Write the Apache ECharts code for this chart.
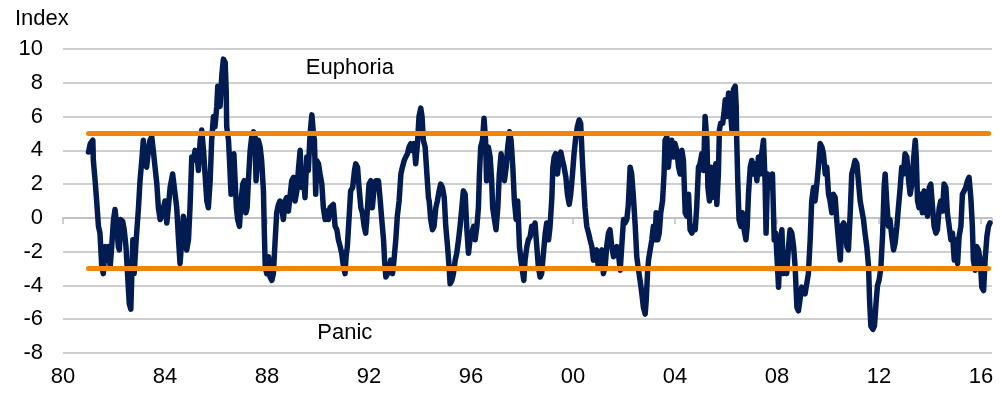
<!DOCTYPE html>
<html>
<head>
<meta charset="utf-8">
<script src="https://cdn.jsdelivr.net/npm/echarts@6/dist/echarts.min.js"></script>
<style>
  html, body { margin: 0; padding: 0; background: #fff; }
  #chart { width: 1002px; height: 396px; }
</style>
</head>
<body>
<div id="chart"></div>
<script>
// index readings: [year, value]
const sentiment = [
  [1981.00, 3.9], [1981.07, 4.4], [1981.17, 4.6], [1981.19, 3.4], [1981.26, 2.2], [1981.32, 1.0],
  [1981.39, -0.5], [1981.45, -0.9], [1981.52, -2.9], [1981.58, -3.3], [1981.65, -1.7], [1981.72, -2.5],
  [1981.78, -1.7], [1981.85, -2.9], [1981.91, -1.7], [1981.98, -0.1], [1982.04, 0.5], [1982.11, -0.5],
  [1982.17, -1.7], [1982.21, -1.9], [1982.26, -0.1], [1982.34, -0.2], [1982.40, -0.7], [1982.47, -1.7],
  [1982.53, -3.3], [1982.60, -5.1], [1982.66, -5.4], [1982.70, -3.3], [1982.74, -1.3], [1982.79, -3.3],
  [1982.87, -1.3], [1982.96, 0.6], [1983.02, 2.2], [1983.09, 3.4], [1983.15, 4.6], [1983.22, 3.2],
  [1983.28, 3.0], [1983.35, 4.0], [1983.41, 4.6], [1983.48, 4.8], [1983.54, 4.0], [1983.61, 3.0],
  [1983.68, 2.0], [1983.74, 0.6], [1983.81, -0.1], [1983.87, 0.1], [1983.94, 0.6], [1984.00, 1.0],
  [1984.07, -0.3], [1984.13, 0.6], [1984.20, 1.8], [1984.30, 2.6], [1984.37, 2.6], [1984.46, 0.6],
  [1984.53, -1.3], [1984.59, -2.7], [1984.66, -1.3], [1984.72, 0.1], [1984.79, -0.5], [1984.85, -1.9],
  [1984.92, -1.3], [1984.98, 0.6], [1985.05, 3.6], [1985.11, 3.4], [1985.18, 4.0], [1985.25, 3.8],
  [1985.31, 2.8], [1985.38, 4.6], [1985.44, 5.2], [1985.51, 4.0], [1985.57, 2.6], [1985.64, 1.0],
  [1985.70, 0.6], [1985.77, 2.2], [1985.83, 4.6], [1985.90, 6.0], [1985.96, 5.4], [1986.03, 6.6],
  [1986.07, 7.8], [1986.12, 7.5], [1986.16, 6.6], [1986.23, 8.5], [1986.29, 9.4], [1986.36, 9.2],
  [1986.40, 7.5], [1986.42, 5.4], [1986.49, 4.6], [1986.53, 3.4], [1986.59, 1.4], [1986.64, 2.6],
  [1986.70, 3.8], [1986.75, 2.2], [1986.80, 0.6], [1986.85, -0.1], [1986.92, -0.5], [1986.98, 1.0],
  [1987.05, 2.0], [1987.11, 2.2], [1987.17, 0.3], [1987.22, 0.6], [1987.27, 2.2], [1987.34, 4.0],
  [1987.40, 4.8], [1987.47, 5.1], [1987.53, 4.8], [1987.57, 2.2], [1987.62, 3.4], [1987.66, 4.6],
  [1987.73, 4.2], [1987.79, 3.4], [1987.86, 1.6], [1987.89, -0.5], [1987.93, -2.9], [1987.99, -3.3],
  [1988.06, -2.3], [1988.12, -3.5], [1988.19, -3.7], [1988.25, -3.3], [1988.32, -1.3], [1988.38, 0.3],
  [1988.45, 0.8], [1988.51, 1.0], [1988.58, 0.6], [1988.64, -0.1], [1988.71, 1.0], [1988.77, 1.2],
  [1988.84, 0.4], [1988.91, 1.4], [1988.97, 2.2], [1989.04, 2.4], [1989.10, 1.0], [1989.17, 1.6],
  [1989.24, 3.0], [1989.30, 4.0], [1989.36, 1.8], [1989.43, 2.6], [1989.49, 1.2], [1989.56, 3.6],
  [1989.62, 2.8], [1989.69, 5.0], [1989.76, 6.1], [1989.82, 5.0], [1989.86, 4.6], [1989.91, 1.4],
  [1989.95, 3.4], [1990.02, 3.2], [1990.08, 2.6], [1990.15, 2.0], [1990.21, 0.6], [1990.28, -0.1],
  [1990.34, 0.4], [1990.41, -0.1], [1990.47, 0.6], [1990.54, 0.6], [1990.60, 0.8], [1990.67, -0.5],
  [1990.74, -0.7], [1990.80, -1.3], [1990.87, -1.7], [1990.93, -2.1], [1991.00, -2.9], [1991.06, -3.3],
  [1991.10, -2.3], [1991.15, -1.7], [1991.23, 0.3], [1991.28, 1.6], [1991.36, 1.8], [1991.43, 2.8],
  [1991.48, 3.2], [1991.55, 3.0], [1991.61, 1.8], [1991.68, 0.6], [1991.74, 0.3], [1991.81, -0.5],
  [1991.87, -0.9], [1991.94, 0.6], [1992.00, 2.0], [1992.07, 2.2], [1992.13, 0.6], [1992.20, 1.8],
  [1992.27, 2.2], [1992.37, 2.2], [1992.43, 1.2], [1992.50, -0.1], [1992.57, -1.3], [1992.61, -2.5],
  [1992.66, -3.5], [1992.73, -3.3], [1992.79, -3.1], [1992.85, -2.5], [1992.92, -3.3], [1992.98, -2.5],
  [1993.05, -1.3], [1993.11, 0.1], [1993.18, 1.0], [1993.25, 2.6], [1993.31, 3.0], [1993.38, 3.4],
  [1993.44, 3.6], [1993.51, 3.8], [1993.57, 4.2], [1993.64, 4.4], [1993.70, 4.0], [1993.77, 4.4],
  [1993.83, 3.2], [1993.90, 4.4], [1993.96, 6.0], [1994.03, 6.5], [1994.08, 6.0], [1994.13, 4.6],
  [1994.20, 4.2], [1994.27, 2.6], [1994.33, 1.2], [1994.36, 1.0], [1994.42, -0.1], [1994.49, -0.7],
  [1994.55, -0.5], [1994.62, 0.6], [1994.68, 1.0], [1994.75, 1.6], [1994.81, 2.0], [1994.88, 1.8],
  [1994.95, 1.2], [1995.01, -0.5], [1995.08, -1.7], [1995.14, -2.9], [1995.18, -3.9], [1995.25, -3.7],
  [1995.31, -3.3], [1995.38, -2.5], [1995.44, -2.1], [1995.51, -1.3], [1995.57, -0.5], [1995.64, 0.6],
  [1995.70, 1.6], [1995.77, 1.4], [1995.83, -0.5], [1995.90, -2.1], [1995.96, -1.3], [1996.03, -0.9],
  [1996.10, -0.5], [1996.16, -1.3], [1996.23, -0.5], [1996.29, 0.6], [1996.33, 2.6], [1996.38, 4.2],
  [1996.45, 4.6], [1996.51, 5.9], [1996.57, 4.6], [1996.61, 2.2], [1996.68, 4.2], [1996.75, 3.6],
  [1996.81, 2.2], [1996.85, 0.6], [1996.92, -0.1], [1996.98, -0.7], [1997.05, 0.6], [1997.11, 2.6],
  [1997.18, 3.8], [1997.25, 3.0], [1997.31, 2.2], [1997.38, 3.0], [1997.44, 4.2], [1997.51, 5.1],
  [1997.57, 4.6], [1997.64, 3.0], [1997.70, 1.0], [1997.77, -0.1], [1997.83, 1.0], [1997.90, -1.7],
  [1997.96, -2.5], [1998.03, -3.3], [1998.07, -3.7], [1998.12, -2.5], [1998.19, -1.7], [1998.25, -1.3],
  [1998.32, -1.1], [1998.38, -0.5], [1998.45, -0.9], [1998.51, -0.3], [1998.58, -1.7], [1998.64, -2.9],
  [1998.71, -3.5], [1998.77, -3.3], [1998.84, -2.1], [1998.91, -0.9], [1998.97, -0.3], [1999.04, -1.3],
  [1999.10, -0.5], [1999.17, 1.2], [1999.21, 3.0], [1999.26, 3.6], [1999.32, 3.8], [1999.39, 2.6],
  [1999.46, 3.6], [1999.52, 3.9], [1999.59, 3.4], [1999.65, 3.0], [1999.72, 2.4], [1999.78, 1.4],
  [1999.85, 0.8], [1999.91, 1.4], [1999.98, 2.6], [2000.04, 3.8], [2000.11, 4.8], [2000.17, 5.4],
  [2000.24, 5.8], [2000.30, 5.6], [2000.36, 3.6], [2000.41, 2.2], [2000.47, 0.6], [2000.54, -0.5],
  [2000.61, -0.9], [2000.67, -1.3], [2000.74, -1.7], [2000.80, -2.5], [2000.87, -2.1], [2000.93, -1.9],
  [2000.99, -2.9], [2001.06, -2.1], [2001.13, -1.9], [2001.19, -3.3], [2001.26, -2.9], [2001.32, -1.7],
  [2001.39, -0.9], [2001.45, -0.7], [2001.52, -1.7], [2001.59, -2.3], [2001.65, -2.1], [2001.72, -1.7],
  [2001.78, -2.1], [2001.85, -3.1], [2001.91, -1.7], [2001.98, -0.1], [2002.04, -0.3], [2002.11, -0.1],
  [2002.17, 0.8], [2002.24, 3.0], [2002.30, 2.6], [2002.37, 1.2], [2002.44, -0.5], [2002.50, -2.3],
  [2002.57, -3.1], [2002.63, -3.7], [2002.70, -4.5], [2002.76, -5.3], [2002.83, -5.7], [2002.87, -4.9],
  [2002.92, -3.3], [2002.96, -2.5], [2003.02, -2.5], [2003.09, -1.3], [2003.15, -0.5], [2003.22, -1.3],
  [2003.26, 0.3], [2003.32, -1.3], [2003.38, -0.9], [2003.44, 0.3], [2003.51, 1.0], [2003.57, 2.6],
  [2003.61, 4.6], [2003.68, 4.8], [2003.74, 3.0], [2003.81, 4.2], [2003.87, 4.6], [2003.94, 3.6],
  [2004.00, 4.4], [2004.07, 4.0], [2004.14, 3.0], [2004.20, 2.6], [2004.27, 4.0], [2004.33, 3.4],
  [2004.40, 0.3], [2004.46, 0.1], [2004.53, 1.4], [2004.59, -0.7], [2004.66, -0.9], [2004.72, -0.5],
  [2004.79, -0.7], [2004.85, 0.6], [2004.92, 3.0], [2004.98, 3.2], [2005.05, 3.8], [2005.12, 2.8],
  [2005.18, 6.0], [2005.25, 4.6], [2005.29, 1.8], [2005.35, 1.0], [2005.42, 3.0], [2005.47, 1.2],
  [2005.53, 2.2], [2005.60, 3.2], [2005.64, 0.8], [2005.70, 2.6], [2005.74, 5.2], [2005.79, 5.6],
  [2005.87, 5.6], [2005.92, 6.2], [2005.97, 7.0], [2006.03, 6.0], [2006.10, 7.4], [2006.16, 6.6],
  [2006.23, 5.2], [2006.29, 7.6], [2006.36, 7.8], [2006.40, 6.6], [2006.42, 4.6], [2006.46, 2.2],
  [2006.51, -0.1], [2006.58, -0.5], [2006.64, 0.3], [2006.71, -0.7], [2006.78, -1.3], [2006.83, -0.5],
  [2006.88, 1.4], [2006.95, 3.0], [2007.01, 3.4], [2007.08, 2.6], [2007.14, 3.2], [2007.21, 2.2],
  [2007.27, 3.6], [2007.34, 2.6], [2007.40, 3.8], [2007.47, 4.6], [2007.53, 2.2], [2007.57, -0.9],
  [2007.63, 2.6], [2007.69, 2.2], [2007.76, 1.8], [2007.82, 2.6], [2007.89, -1.3], [2007.95, -0.9],
  [2007.99, -2.1], [2008.06, -4.1], [2008.12, -1.7], [2008.19, -0.7], [2008.25, -3.3], [2008.32, -2.1],
  [2008.38, -3.3], [2008.45, -1.7], [2008.51, -0.7], [2008.58, -0.9], [2008.65, -1.7], [2008.71, -2.9],
  [2008.78, -5.3], [2008.84, -5.5], [2008.91, -5.5], [2008.97, -4.1], [2009.04, -4.1], [2009.10, -4.5],
  [2009.17, -4.5], [2009.23, -3.3], [2009.30, -1.3], [2009.36, 1.0], [2009.43, 1.8], [2009.49, 1.0],
  [2009.56, 2.0], [2009.62, 3.0], [2009.69, 4.4], [2009.76, 4.2], [2009.82, 3.8], [2009.89, 2.6],
  [2009.95, 3.0], [2010.02, 1.4], [2010.08, 1.0], [2010.15, 0.3], [2010.21, 1.4], [2010.28, 1.2],
  [2010.34, -0.1], [2010.41, -1.3], [2010.48, -2.5], [2010.54, -0.5], [2010.61, -0.3], [2010.67, -0.5],
  [2010.74, -1.7], [2010.80, -1.9], [2010.87, 0.3], [2010.93, 2.6], [2011.00, 3.0], [2011.06, 3.4],
  [2011.13, 3.2], [2011.19, 2.2], [2011.26, 1.0], [2011.32, 1.0], [2011.39, -0.1], [2011.45, -0.9],
  [2011.52, -1.7], [2011.59, -2.9], [2011.63, -4.9], [2011.68, -6.4], [2011.76, -6.6], [2011.82, -6.4],
  [2011.89, -4.9], [2011.94, -4.0], [2012.00, -3.7], [2012.07, -3.0], [2012.14, -1.0], [2012.20, 1.8],
  [2012.24, 2.6], [2012.30, 1.0], [2012.37, -0.5], [2012.43, -0.1], [2012.50, -1.1], [2012.57, -1.9],
  [2012.63, -1.5], [2012.70, -0.5], [2012.76, 0.6], [2012.83, 1.8], [2012.89, 3.0], [2012.96, 2.6],
  [2013.02, 3.8], [2013.09, 3.6], [2013.16, 2.2], [2013.22, 1.4], [2013.29, 2.0], [2013.35, 3.4],
  [2013.42, 4.6], [2013.46, 3.6], [2013.51, 1.0], [2013.57, 0.6], [2013.64, 1.4], [2013.70, 0.3],
  [2013.77, 1.6], [2013.83, 0.6], [2013.90, 0.1], [2013.97, 1.8], [2014.03, 2.0], [2014.10, 0.6],
  [2014.16, -0.5], [2014.23, -0.9], [2014.29, -0.7], [2014.36, 0.6], [2014.42, 1.0], [2014.49, 0.4],
  [2014.55, 2.0], [2014.62, 1.8], [2014.68, 0.3], [2014.75, -0.5], [2014.82, -1.3], [2014.88, -0.9],
  [2014.95, -2.5], [2015.01, -1.3], [2015.08, -2.7], [2015.14, -1.1], [2015.21, -0.5], [2015.27, 1.4],
  [2015.34, 1.6], [2015.40, 1.8], [2015.47, 2.2], [2015.53, 2.4], [2015.60, 1.2], [2015.66, -0.5],
  [2015.70, -2.5], [2015.77, -3.1], [2015.83, -1.7], [2015.90, -1.9], [2015.97, -2.5], [2016.03, -4.1],
  [2016.10, -4.3], [2016.16, -2.5], [2016.23, -1.1], [2016.29, -0.5], [2016.35, -0.3]
];

const bandYears = [1981.0, 2016.3];
const euphoriaLevel = 5;
const panicLevel = -3;
const zoneLabels = [
  { name: 'Euphoria', value: [1991.25, 8.9] },
  { name: 'Panic', value: [1991.05, -6.8] }
];

const chart = echarts.init(document.getElementById('chart'));
const font = 'Liberation Sans, Arial, sans-serif';
const xMin = 1980, xMax = 2016.43;

const option = {
  animation: false,
  title: {
    text: 'Index', left: 10, top: 3,
    textStyle: { fontFamily: font, fontSize: 22, fontWeight: 'normal', color: '#000' }
  },
  grid: { left: 63, right: 10, top: 49, bottom: 43 },
  xAxis: [
    {
      type: 'value', min: xMin, max: xMax, interval: 4,
      axisLine: { show: false, onZero: false },
      axisTick: { show: false },
      splitLine: { show: false },
      axisLabel: {
        fontFamily: font, fontSize: 22, color: '#000', margin: 13,
        showMaxLabel: false,
        formatter: v => String(Math.round(v) % 100).padStart(2, '0')
      }
    },
    {
      type: 'value', min: xMin, max: xMax, interval: 4, position: 'top',
      axisLine: { show: true, onZero: true, lineStyle: { color: '#bfbfbf', width: 1.5 } },
      axisTick: { show: true, inside: true, length: 6, lineStyle: { color: '#bfbfbf', width: 1.5 } },
      axisLabel: { show: false },
      splitLine: { show: false }
    }
  ],
  yAxis: {
    type: 'value', min: -8, max: 10, interval: 2,
    axisLine: { show: false },
    axisTick: { show: false },
    splitLine: { lineStyle: { color: '#bfbfbf', width: 1.5 } },
    axisLabel: { fontFamily: font, fontSize: 22, color: '#000', margin: 20 }
  },
  series: [
    {
      type: 'line', data: sentiment, showSymbol: false,
      lineStyle: { color: '#021c52', width: 5.5, join: 'round', cap: 'round' },
      z: 3
    },
    {
      type: 'line', showSymbol: false,
      data: bandYears.map(y => [y, euphoriaLevel]),
      lineStyle: { color: '#f0850a', width: 5, cap: 'round' },
      z: 4
    },
    {
      type: 'line', showSymbol: false,
      data: bandYears.map(y => [y, panicLevel]),
      lineStyle: { color: '#f0850a', width: 5, cap: 'round' },
      z: 4
    },
    {
      type: 'scatter', data: zoneLabels, symbolSize: 0,
      itemStyle: { opacity: 1 },
      label: {
        show: true, position: 'inside', formatter: p => p.name,
        fontFamily: font, fontSize: 22, color: '#000', opacity: 1
      },
      z: 5
    }
  ]
};

chart.setOption(option);
</script>
</body>
</html>
